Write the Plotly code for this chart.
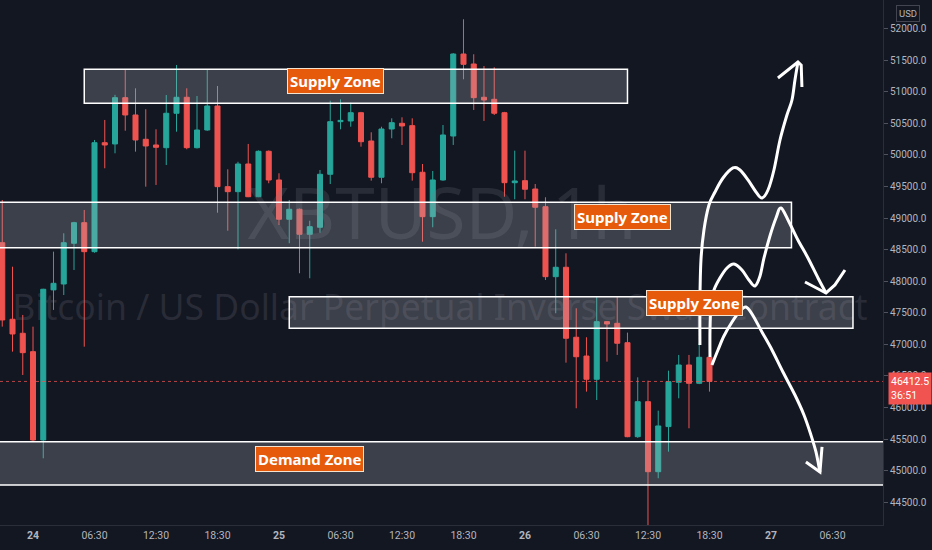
import plotly.graph_objects as go

# ---------------- data ----------------
# hour index (0 = day 24, 00:30 candle), 1h candles, t = -3 .. 66
hours = list(range(-3, 67))
opens = [48609, 47397, 47175, 46884, 45486, 47862, 47955, 48600, 48926, 48467,
         50192, 50172, 50905, 50631, 50246, 50156, 50113, 50658, 50911, 50113,
         50393, 50773, 49496, 49417, 49855, 49337, 50056, 49602, 48980, 49138,
         48742, 48853, 49692, 50525, 50536, 50667, 50219, 49645, 50409, 50499,
         50462, 49724, 49021, 49602, 50298, 51596, 51438, 50911, 50879, 50667,
         49559, 49591, 49459, 49179, 48071, 48220, 47112, 46815, 46447, 47359,
         47333, 47026, 45538, 46092, 44984, 45698, 46399, 46673, 46383, 46795]
highs = [49285, 48229, 47465, 47280, 47880, 48467, 48758, 48940, 49127, 50235,
         50552, 50950, 51343, 51053, 50721, 50404, 50947, 51422, 51053, 50931,
         51343, 51090, 49771, 49890, 50172, 50070, 50070, 49708, 49285, 49150,
         48957, 49760, 50857, 50879, 50825, 50680, 50357, 50445, 50578, 50594,
         50578, 49855, 49744, 50472, 51610, 52146, 51592, 51406, 51386, 50680,
         50066, 50066, 49538, 49328, 48821, 48441, 47571, 47112, 47754, 47370,
         47765, 47185, 46478, 46425, 45950, 46583, 46832, 46832, 47017, 46800]
lows = [47280, 46884, 46515, 45460, 45196, 47545, 47781, 48177, 46963, 48450,
        49787, 50024, 50382, 50050, 49496, 49523, 49839, 50366, 50088, 50100,
        50380, 49084, 48799, 48505, 49330, 49330, 49550, 48889, 48600, 48125,
        48046, 48767, 49538, 50404, 50445, 50129, 49591, 49550, 50262, 50156,
        49591, 48625, 48853, 49590, 50156, 51196, 50710, 50536, 50631, 49337,
        49296, 49296, 48546, 48019, 47492, 46710, 45988, 46251, 46119, 46726,
        46832, 45530, 45520, 44114, 44880, 45301, 46146, 45671, 46370, 46251]
closes = [47386, 47164, 46868, 45486, 47872, 47966, 48609, 48926, 48467, 50192,
          50156, 50905, 50631, 50235, 50140, 50119, 50658, 50911, 50113, 50393,
          50773, 49496, 49417, 49855, 49337, 50056, 49602, 48980, 49138, 48742,
          48863, 49692, 50525, 50545, 50667, 50208, 49645, 50409, 50509, 50457,
          49717, 49021, 49602, 50314, 51596, 51433, 50905, 50868, 50658, 49559,
          49586, 49455, 49170, 48071, 48220, 47096, 46804, 46447, 47359, 47322,
          47017, 45538, 46092, 44984, 45708, 46409, 46673, 46383, 46795, 46412.5]

last_price = 46412.5
countdown = "36:51"

x_tick_hours = [0, 6, 12, 18, 24, 30, 36, 42, 48, 54, 60, 66, 72, 78]
x_tick_labels = ["<b>24</b>", "06:30", "12:30", "18:30", "<b>25</b>", "06:30", "12:30",
                 "18:30", "<b>26</b>", "06:30", "12:30", "18:30", "<b>27</b>", "06:30"]
y_tick_values = [44500 + 500 * i for i in range(16)]
y_tick_labels = [f"{v:.1f}" for v in y_tick_values]

# zones
zone_names = ["Supply Zone", "Supply Zone", "Supply Zone", "Demand Zone"]
zone_start = [5, -10, 25, -10]
zone_end = [58, 74, 80, 95]
zone_low = [50816, 48530, 47254, 44774]
zone_high = [51354, 49249, 47754, 45459]
label_hour = [29.5, 57.5, 64.55, 27.0]
label_price = [51169, 49016, 47655, 45185]

# hand-drawn projection strokes (hour, price)
strokeA_t = [65.07, 65.07, 65.17, 65.46, 65.95, 66.54, 67.32, 68.29, 68.98, 69.76, 70.54,
             71.12, 71.71, 72.29, 72.88, 73.56, 74.05, 74.34, 74.63]
strokeA_p = [46990, 47702, 48335, 48810, 49206, 49412, 49633, 49792, 49760, 49602, 49412,
             49317, 49443, 49760, 50235, 50631, 50868, 51185, 51470]
headA_t = [72.68, 74.63, 74.95, 75.02]
headA_p = [51216, 51470, 51420, 51074]
strokeB_t = [66.05, 66.05, 66.15, 66.44, 67.02, 67.71, 68.39, 69.17, 69.85, 70.44, 70.93,
             71.32, 71.90, 72.49, 72.98, 73.76, 74.63, 75.61, 76.59, 77.37]
strokeB_p = [46800, 47227, 47623, 47860, 48050, 48209, 48272, 48177, 48019, 47924, 48082,
             48367, 48715, 49000, 49159, 48937, 48652, 48367, 48050, 47813]
headB_t = [75.32, 77.37, 78.24, 79.22]
headB_p = [47987, 47813, 47940, 48177]
strokeC_t = [66.24, 66.83, 67.41, 68.20, 68.98, 69.56, 70.15, 71.12, 72.10, 73.17, 74.34,
             75.22, 75.90, 76.39, 76.78]
strokeC_p = [46673, 46911, 47132, 47354, 47528, 47591, 47480, 47196, 46911, 46562, 46198,
             45882, 45565, 45296, 44979]
headC_t = [75.41, 76.78, 76.98]
headC_p = [45138, 44979, 45375]

# ---------------- styling ----------------
BG = "#131722"
UP = "#26a69a"
DOWN = "#ef5350"
TXT = "#b2b5be"
X_RANGE = [-3.22, 82.93]
Y_RANGE = [44140, 52451]


def smooth_path(ts, ps):
    pts = list(zip(ts, ps))
    d = f"M {pts[0][0]},{pts[0][1]}"
    n = len(pts)
    for i in range(n - 1):
        p0 = pts[i - 1] if i > 0 else pts[i]
        p1 = pts[i]
        p2 = pts[i + 1]
        p3 = pts[i + 2] if i + 2 < n else p2
        c1 = (p1[0] + (p2[0] - p0[0]) / 6, p1[1] + (p2[1] - p0[1]) / 6)
        c2 = (p2[0] - (p3[0] - p1[0]) / 6, p2[1] - (p3[1] - p1[1]) / 6)
        d += (f" C {c1[0]:.4f},{c1[1]:.2f} {c2[0]:.4f},{c2[1]:.2f}"
              f" {p2[0]:.4f},{p2[1]:.2f}")
    return d


def poly_path(ts, ps):
    return "M " + " L ".join(f"{t},{p}" for t, p in zip(ts, ps))


fig = go.Figure()

# watermarks (under candles)
WM = "rgba(120,123,134,0.22)"
fig.add_trace(go.Scatter(
    x=[39.9], y=[48953], mode="text", text=["XBTUSD, 1h"],
    textfont=dict(family="Noto Sans", size=71, color=WM),
    hoverinfo="skip", showlegend=False))
fig.add_trace(go.Scatter(
    x=[39.7], y=[47528], mode="text",
    text=["Bitcoin / US Dollar Perpetual Inverse Swap Contract"],
    textfont=dict(family="Noto Sans", size=35.5, color=WM),
    hoverinfo="skip", showlegend=False))

fig.add_trace(go.Candlestick(
    x=hours, open=opens, high=highs, low=lows, close=closes,
    increasing=dict(line=dict(color=UP, width=1), fillcolor=UP),
    decreasing=dict(line=dict(color=DOWN, width=1), fillcolor=DOWN),
    hoverinfo="skip", showlegend=False))

shapes = []
shapes.append(dict(type="line", xref="paper", x0=0, x1=1, yref="y",
                   y0=last_price, y1=last_price,
                   line=dict(color="rgba(239,83,80,0.75)", width=1, dash="dot"),
                   layer="above"))
for i in range(len(zone_names)):
    shapes.append(dict(type="rect", xref="x", yref="y",
                       x0=zone_start[i], x1=zone_end[i],
                       y0=zone_low[i], y1=zone_high[i],
                       fillcolor="rgba(178,181,190,0.26)",
                       line=dict(color="#ffffff", width=1.5), layer="above"))
for ts, ps in [(strokeA_t, strokeA_p), (strokeB_t, strokeB_p), (strokeC_t, strokeC_p)]:
    shapes.append(dict(type="path", xref="x", yref="y", path=smooth_path(ts, ps),
                       line=dict(color="#ffffff", width=3), layer="above"))
for ts, ps in [(headA_t, headA_p), (headB_t, headB_p), (headC_t, headC_p)]:
    shapes.append(dict(type="path", xref="x", yref="y", path=poly_path(ts, ps),
                       line=dict(color="#ffffff", width=3), layer="above"))

annotations = []
for i in range(len(zone_names)):
    annotations.append(dict(
        x=label_hour[i], y=label_price[i], xref="x", yref="y",
        text=zone_names[i], showarrow=False,
        font=dict(family="Noto Sans", size=15, color="#ffffff", weight="bold"),
        bgcolor="#e65a0b", bordercolor="#f3e3cf", borderwidth=1, borderpad=2,
        xanchor="center", yanchor="middle"))

annotations.append(dict(
    xref="paper", x=1, xanchor="left", xshift=5,
    yref="y", y=last_price, yanchor="top", yshift=9,
    text=f"{last_price}<br>{countdown}", align="left", showarrow=False,
    font=dict(family="Roboto", size=10.5, color="#ffffff"),
    bgcolor="#f05350", borderpad=2))
annotations.append(dict(
    xref="paper", x=907.5 / 883, xanchor="center",
    yref="paper", y=(525 - 14) / 525, yanchor="middle",
    text="USD", showarrow=False,
    font=dict(family="Roboto", size=9.5, color=TXT),
    bgcolor=BG, bordercolor="#434651", borderwidth=1, borderpad=2))

fig.update_layout(
    width=932, height=550,
    margin=dict(l=0, r=49, t=0, b=25),
    paper_bgcolor=BG, plot_bgcolor=BG,
    showlegend=False, hovermode=False,
    shapes=shapes, annotations=annotations,
    xaxis=dict(range=X_RANGE, tickvals=x_tick_hours, ticktext=x_tick_labels,
               showgrid=False, zeroline=False, ticks="", showline=True,
               linecolor="#2a2e39", linewidth=1, rangeslider=dict(visible=False),
               tickfont=dict(family="Roboto", size=10.5, color=TXT),
               fixedrange=True),
    yaxis=dict(range=Y_RANGE, side="right", tickvals=y_tick_values,
               ticktext=y_tick_labels, showgrid=False, zeroline=False,
               ticks="outside", ticklen=4, tickcolor="#50535e",
               showline=True, linecolor="#2a2e39", linewidth=1,
               tickfont=dict(family="Roboto", size=10, color=TXT),
               fixedrange=True),
)

fig.write_html("out.html",
               config={"displayModeBar": False, "staticPlot": True},
               post_script="document.body.style.margin='0px';"
                           "document.body.style.background='#131722';")
